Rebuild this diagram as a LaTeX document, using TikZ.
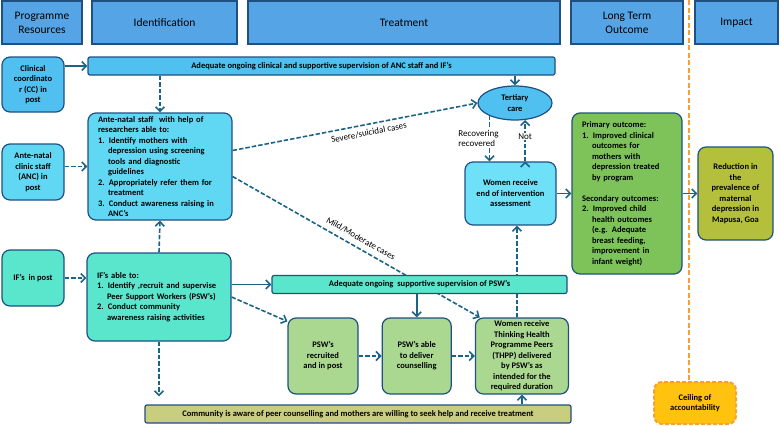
\documentclass[tikz,border=0pt]{standalone}
\usepackage{fontspec}
\setmainfont{Carlito}
\usepackage{tikz}
\usetikzlibrary{positioning}
\usetikzlibrary{arrows.meta}
\usetikzlibrary{shapes.geometric}
\usetikzlibrary{backgrounds}

\definecolor{hdrblue}{RGB}{84,164,230}
\definecolor{edgeblue}{RGB}{30,80,130}
\definecolor{arrowteal}{RGB}{28,100,135}
\definecolor{ccblue}{RGB}{80,192,240}
\definecolor{ancyan}{RGB}{96,216,244}
\definecolor{ifaqua}{RGB}{90,230,205}
\definecolor{endcyan}{RGB}{110,224,248}
\definecolor{pswgreen}{RGB}{170,216,145}
\definecolor{commkhaki}{RGB}{200,205,128}
\definecolor{outgreen}{RGB}{125,195,90}
\definecolor{impolive}{RGB}{180,192,60}
\definecolor{ceilgold}{RGB}{255,194,14}
\definecolor{ceilorange}{RGB}{247,160,52}

\newcommand{\ind}{\hspace*{10pt}}

\begin{document}
\begin{tikzpicture}[x=1pt,y=-1pt,>={Straight Barb[length=4.5pt,width=9pt]},thick,
  header/.style={rectangle,draw=edgeblue,line width=1.2pt,fill=hdrblue,minimum height=43pt,font=\fontsize{11.5}{14}\selectfont,align=center,inner sep=1pt},
  box/.style={rectangle,rounded corners=8pt,draw=edgeblue,line width=1.2pt,font=\fontsize{8.5}{10.5}\selectfont\bfseries,align=center,inner sep=1pt},
  bar/.style={rectangle,rounded corners=2pt,draw=edgeblue,line width=1.2pt,minimum height=18pt,font=\fontsize{8.5}{10}\selectfont\bfseries,inner sep=1pt},
  link/.style={->,draw=arrowteal,line width=1.6pt},
  dlink/.style={link,dash pattern=on 4.5pt off 2pt},
  lbl/.style={font=\fontsize{9}{10.5}\selectfont,text=black}]

	\useasboundingbox (0,0) rectangle (780,426);

	\node[header,minimum width=80pt] (hRes) at (42,22.5) {Programme\\Resources};
	\node[header,minimum width=145pt] (hIdent) at (164.5,22.5) {Identification};
	\node[header,minimum width=312pt] (hTreat) at (404,22.5) {Treatment};
	\node[header,minimum width=112pt] (hLong) at (627,22.5) {Long Term\\Outcome};
	\node[header,minimum width=83pt] (hImpact) at (736.5,22.5) {Impact};

	\node[box,fill=ccblue,minimum width=62pt,minimum height=55pt] (cc) at (33,84.5) {Clinical\\coordinato\\r (CC) in\\post};
	\node[box,fill=ancyan,minimum width=62pt,minimum height=56pt] (anc) at (33,172) {Ante-natal\\clinic staff\\(ANC) in\\post};
	\node[box,fill=ifaqua,minimum width=62pt,minimum height=56pt] (ifpost) at (33,278) {IF’s~ in post};

	\node[bar,fill=ccblue,minimum width=467pt] (supANC) at (321.5,66) {Adequate ongoing clinical and supportive supervision of ANC staff and IF’s};

	\node[box,fill=ancyan,minimum width=144pt,minimum height=107pt,align=left,text width=124pt] (antenatal) at (160,166.5) {Ante-natal staff~ with help of\\researchers able to:\\1. Identify mothers with\\\ind depression using screening\\\ind tools and diagnostic\\\ind guidelines\\2. Appropriately refer them for\\\ind treatment\\3. Conduct awareness raising in\\\ind ANC’s};
	\node[box,fill=ifaqua,minimum width=144pt,minimum height=88pt,align=left,text width=124pt] (ifable) at (159,297) {IF’s able to:\\1. Identify ,recruit and supervise\\\ind Peer Support Workers (PSW’s)\\2. Conduct community\\\ind awareness raising activities};

	\node[bar,fill=ifaqua,minimum width=295pt] (supPSW) at (419.5,284.5) {Adequate ongoing~ supportive supervision of PSW’s};

	\node[box,fill=pswgreen,minimum width=70pt,minimum height=76pt] (recruited) at (323,356) {PSW’s\\recruited\\and in post};
	\node[box,fill=pswgreen,minimum width=69pt,minimum height=76pt] (able) [right=23pt of recruited] {PSW’s able\\to deliver\\counselling};
	\node[box,fill=pswgreen,minimum width=93pt,minimum height=76pt] (thpp) [right=23pt of able] {Women receive\\Thinking Health\\Programme Peers\\(THPP) delivered\\by PSW’s as\\intended for the\\required duration};

	\node[bar,fill=commkhaki,minimum width=426pt] (community) at (358,414) {Community is aware of peer counselling and mothers are willing to seek help and receive treatment};

	\node[box,fill=endcyan,minimum width=91pt,minimum height=63pt] (endbox) at (510.5,193.5) {Women receive\\end of intervention\\assessment};
	\node[box,ellipse,fill=ccblue,minimum width=74pt,minimum height=34pt,inner sep=0pt] (tertiary) at (515,103) {Tertiary\\care};

	\node[box,fill=outgreen,minimum width=110pt,minimum height=161pt,align=left,text width=90pt] (outcome) at (627,193.5) {Primary outcome:\\1. Improved clinical\\\ind outcomes for\\\ind mothers with\\\ind depression treated\\\ind by program\\[10.5pt]Secondary outcomes:\\2. Improved child\\\ind health outcomes\\\ind (e.g. Adequate\\\ind breast feeding,\\\ind improvement in\\\ind infant weight)};
	\node[box,fill=impolive,minimum width=75pt,minimum height=93pt] (impact) at (735.5,193.5) {Reduction in\\the\\prevalence of\\maternal\\depression in\\Mapusa, Goa};

	\node[box,fill=ceilgold,draw=ceilorange,dash pattern=on 4pt off 2pt,line width=2pt,minimum width=82pt,minimum height=42pt] (ceiling) at (695,403) {Ceiling of\\accountability};

	\coordinate (ceilTop) at (689,0);
	\coordinate (thppTop) at ([xshift=-5pt]thpp.north);
	\draw[ceilorange,line width=2.5pt,dash pattern=on 5pt off 2.5pt] (ceilTop) -- (ceilTop |- ceiling.north);

	\begin{pgfonlayer}{background}
	\path[link]
	([yshift=-10pt]antenatal.east) edge[dlink] node[lbl,sloped,above=2pt,pos=0.5] {Mild/Moderate cases} ([xshift=5pt]thpp.north west)
	(thppTop) edge[dlink] (thppTop |- endbox.south);
	\end{pgfonlayer}

	\path[link]
	(cc.east |- supANC.west) edge (supANC.west)
	(antenatal.north |- supANC.south) edge[dlink] (antenatal.north)
	(anc.east |- antenatal.west) edge[dlink] (antenatal.west)
	(ifpost.east) edge[dlink] (ifpost.east -| ifable.west)
	(ifable.north) edge[dlink] (antenatal.south)
	(ifable.south) edge[dlink,shorten >=8pt] (ifable.south |- community.north)
	(ifable.east |- supPSW.west) edge (supPSW.west)
	(ifable.east) edge[dlink] ([yshift=-4pt]recruited.north west)
	(recruited) edge[dlink] (able)
	(able) edge[dlink] (thpp)
	(able.north |- supPSW.south) edge (able.north)
	(thpp.south |- community.north) edge (thpp.south)
	(tertiary.north |- supANC.south) edge (tertiary.north)
	([yshift=16pt]antenatal.east) edge[dlink] node[lbl,sloped,below=1pt,pos=0.55] {Severe/suicidal cases} (tertiary.west)
	(tertiary.207) edge[dlink] node[lbl,fill=white,inner sep=1pt,align=left,xshift=-11pt] {Recovering\\recovered} (tertiary.207 |- endbox.north)
	(endbox.north -| tertiary.301) edge[dlink] node[lbl,fill=white,inner sep=1pt,pos=0.6] {Not} (tertiary.301)
	(endbox) edge (outcome)
	(outcome) edge (impact);
\end{tikzpicture}
\end{document}
